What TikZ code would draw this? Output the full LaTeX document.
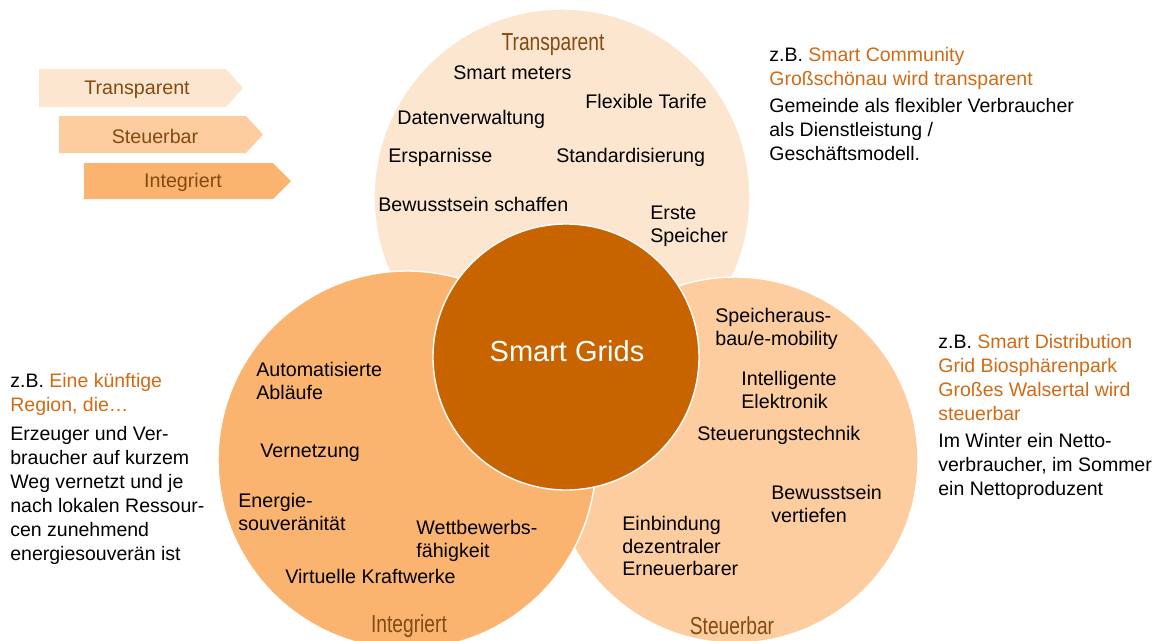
\documentclass[tikz,border=0pt]{standalone}
\usepackage{fontspec}
\setmainfont{Liberation Sans}
\newfontfamily\narrowfont[FakeStretch=0.78]{Liberation Sans}
\definecolor{peachA}{HTML}{FDE6CF}
\definecolor{peachB}{HTML}{FDCD9F}
\definecolor{peachC}{HTML}{FBB470}
\definecolor{gridcore}{HTML}{C86400}
\definecolor{darkbrown}{HTML}{844A10}
\definecolor{hiorange}{HTML}{D06A14}
\begin{document}
\begin{tikzpicture}[x=0.02cm, y=-0.02cm, font=\fontsize{11.2}{13}\selectfont,
  item/.style={anchor=west, align=left, inner sep=0pt},
  ring/.style={draw=white, line width=0.8pt},
  tag/.style={font=\narrowfont\fontsize{14}{16}\selectfont, text=darkbrown, inner sep=0pt},
  note/.style={anchor=west, align=left, inner sep=0pt, font=\fontsize{11.1}{13.6}\selectfont},
  phase/.style={text=darkbrown, inner sep=0pt}]
  \useasboundingbox (0,0) rectangle (1159,640);
  \fill[peachA] (39,69) -- (226,69) -- (243,88) -- (226,107) -- (39,107) -- cycle;
  \fill[peachB] (59,116) -- (246,116) -- (263,134.5) -- (246,153) -- (59,153) -- cycle;
  \fill[peachC] (84,163) -- (273,163) -- (291,181) -- (273,199) -- (84,199) -- cycle;
  \node[phase] (pTrans) at (137,90) {Transparent};
  \node[phase] (pSteuer) at (155,136) {Steuerbar};
  \node[phase] (pInteg) at (183,182) {Integriert};
  \filldraw[fill=peachA, ring] (562,197) circle (188);
  \filldraw[fill=peachB, ring] (735,460) circle (183);
  \filldraw[fill=peachC, ring] (407,460) circle (189);
  \filldraw[fill=gridcore, ring] (566,357) circle (133);
  \node[tag] (tTrans) at (553,45) {Transparent};
  \node[tag] (tSteuer) at (732,626) {Steuerbar};
  \node[tag] (tInteg) at (409,626) {Integriert};
  \node[text=white, font=\fontsize{16.5}{18}\selectfont] (core) at (567,351) {Smart Grids};
  \node[item] (meters) at (453,73) {Smart meters};
  \node[item] (tarife) at (585,101) {Flexible Tarife};
  \node[item] (daten) at (397,119) {Datenverwaltung};
  \node[item] (spar) at (388,157) {Ersparnisse};
  \node[item] (standard) at (556,157) {Standardisierung};
  \node[item] (schaffen) at (378,204) {Bewusstsein schaffen};
  \node[item] (erste) at (650,226) {Erste\\Speicher};
  \node[item] (ausbau) at (715,329) {Speicheraus-\\bau/e-mobility};
  \node[item] (elektronik) at (741,390) {Intelligente\\Elektronik};
  \node[item] (technik) at (697,435) {Steuerungstechnik};
  \node[item] (vertiefen) at (771,504) {Bewusstsein\\vertiefen};
  \node[item] (einbindung) at (622,546) {Einbindung\\dezentraler\\Erneuerbarer};
  \node[item] (ablaeufe) at (256,381) {Automatisierte\\Abläufe};
  \node[item] (vernetzung) at (260,453) {Vernetzung};
  \node[item] (souver) at (238,512) {Energie-\\souveränität};
  \node[item] (wettbewerb) at (416,541) {Wettbewerbs-\\fähigkeit};
  \node[item] (kraftwerke) at (285,576) {Virtuelle Kraftwerke};
  \node[note] (noteTop) at (769,104) {z.B. \textcolor{hiorange}{Smart Community}\\
    \textcolor{hiorange}{Großschönau wird transparent}\\[2pt]
    Gemeinde als flexibler Verbraucher\\ als Dienstleistung /\\ Geschäftsmodell.};
  \node[note] (noteRight) at (938,417) {z.B. \textcolor{hiorange}{Smart Distribution}\\
    \textcolor{hiorange}{Grid Biosphärenpark}\\ \textcolor{hiorange}{Großes Walsertal wird}\\
    \textcolor{hiorange}{steuerbar}\\[2pt]
    Im Winter ein Netto-\\ verbraucher, im Sommer\\ ein Nettoproduzent};
  \node[note] (noteLeft) at (10,469) {z.B. \textcolor{hiorange}{Eine künftige}\\
    \textcolor{hiorange}{Region, die\dots}\\[3pt]
    Erzeuger und Ver-\\ braucher auf kurzem\\ Weg vernetzt und je\\
    nach lokalen Ressour-\\ cen zunehmend\\ energiesouverän ist};
\end{tikzpicture}
\end{document}
